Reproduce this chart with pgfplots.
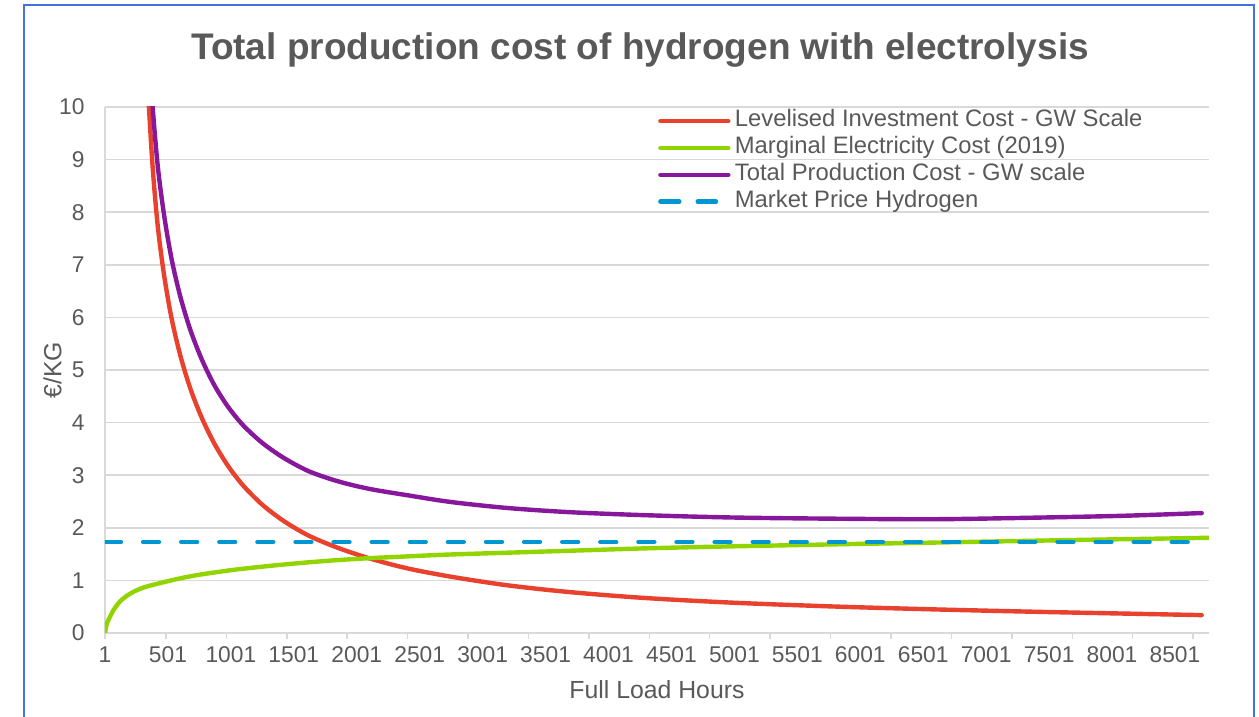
\documentclass[border=0pt]{standalone}
\usepackage{pgfplots}
\pgfplotsset{compat=1.18}
\usepackage{fontspec}
\setmainfont{Liberation Sans}
\definecolor{cred}{RGB}{232,65,46}
\definecolor{cgreen}{RGB}{146,212,0}
\definecolor{cpurple}{RGB}{135,24,155}
\definecolor{cblue}{RGB}{0,150,210}
\definecolor{cgrid}{RGB}{217,217,217}
\definecolor{ctext}{RGB}{89,89,89}
\definecolor{cframe}{RGB}{68,114,220}
\pgfplotsset{dashlegend/.style={legend image code/.code={\draw[##1, dash pattern=on 9.45pt off 9.2pt on 9.15pt off 20pt] (0pt,0pt) -- (33.95pt,0pt);}}}
\begin{document}
\begin{tikzpicture}
\useasboundingbox (0,0) rectangle (629.5pt,358.5pt);
\draw[cframe, line width=1pt] (12pt,-2pt) -- (12pt,356pt) -- (627pt,356pt) -- (627pt,-2pt);
\begin{axis}[
  at={(52.5pt,42pt)}, anchor=south west,
  scale only axis, width=552pt, height=263pt,
  xmin=1, xmax=8771, ymin=0, ymax=10,
  axis x line*=bottom, axis y line*=left,
  axis line style={-, draw=cgrid, line width=0.75pt},
  xtick={1,501,1001,1501,2001,2501,3001,3501,4001,4501,5001,5501,6001,6501,7001,7501,8001,8501},
  xticklabels={1,501,1001,1501,2001,2501,3001,3501,4001,4501,5001,5501,6001,6501,7001,7501,8001,8501},
  minor xtick={1,485,965,1445,1925,2405,2885,3365,3845,4325,4805,5285,5765,6245,6725,7205,7685,8165,8645},
  ytick={0,1,2,3,4,5,6,7,8,9,10},
  yticklabels={0,1,2,3,4,5,6,7,8,9,10},
  major tick length=0pt, minor tick length=3pt, tick align=outside,
  tick style={cgrid, line width=0.75pt},
  ymajorgrids, grid style={cgrid, line width=0.75pt},
  xticklabel style={font=\fontsize{11.4}{13}\selectfont, text=ctext, yshift=-3.2pt},
  yticklabel style={font=\fontsize{11.4}{13}\selectfont, text=ctext, xshift=-6.7pt},
  xlabel={Full Load Hours},
  ylabel={€/KG},
  xlabel style={font=\fontsize{12.4}{14}\selectfont, text=ctext, at={(axis description cs:0.5,0)}, anchor=center, yshift=-28.5pt},
  ylabel style={font=\fontsize{12.4}{14}\selectfont, text=ctext, at={(axis description cs:0,0.5)}, anchor=center, yshift=26.3pt},
  legend style={at={(rel axis cs:0.5011,1)}, anchor=north west, yshift=-0.4pt, draw=none, fill=none,
    inner sep=0pt, outer sep=0pt, font=\fontsize{11.9}{13}\selectfont, text=ctext,
    nodes={inner sep=0pt, text height=9.45pt, text depth=3.95pt}, column sep=2.2pt, row sep=0pt},
  legend cell align=left,
  legend image code/.code={\draw[#1] (0pt,0pt) -- (33.95pt,0pt);},
  every axis plot/.append style={line width=2.2pt, line cap=round, line join=round},
]
\addplot[cred, smooth, tension=0.5] coordinates {
(330,10.9) (350,10.0) (380,8.84) (420,7.74) (470,6.81) (530,5.98) (600,5.27) (680,4.64)
(770,4.09) (870,3.60) (980,3.17) (1100,2.80) (1250,2.44) (1420,2.13) (1620,1.85)
(1850,1.62) (2100,1.42) (2400,1.23) (2750,1.07) (3200,0.906) (3700,0.776) (4300,0.664)
(5000,0.575) (5800,0.503) (6600,0.448) (7400,0.403) (8100,0.369) (8713,0.34)
};
\addlegendentry{Levelised Investment Cost - GW Scale}
\addplot[cgreen, smooth, tension=0.4] coordinates {
(1,0) (5,0.06) (12,0.14) (22,0.22) (41,0.31) (67,0.43) (90,0.51) (120,0.60) (170,0.70)
(226,0.78) (290,0.85) (358,0.90) (491,0.98) (620,1.05) (756,1.11) (1020,1.20) (1286,1.27)
(1550,1.33) (1815,1.38) (2080,1.42) (2345,1.45) (2716,1.49) (3245,1.53) (3775,1.57)
(4304,1.61) (4834,1.64) (5363,1.665) (5900,1.69) (6500,1.715) (6952,1.735) (7747,1.77)
(8276,1.79) (8771,1.81)
};
\addlegendentry{Marginal Electricity Cost (2019)}
\addplot[cpurple, smooth, tension=0.5] coordinates {
(350,11.15) (380,9.99) (420,8.88) (470,7.95) (530,7.11) (600,6.39) (680,5.755) (770,5.20)
(870,4.71) (980,4.295) (1100,3.945) (1250,3.615) (1420,3.33) (1620,3.075) (1850,2.885)
(2100,2.74) (2400,2.62) (2750,2.49) (3200,2.376) (3700,2.296) (4300,2.239) (5000,2.195)
(5800,2.173) (6600,2.163) (7400,2.193) (8100,2.229) (8713,2.28)
};
\addlegendentry{Total Production Cost - GW scale}
\addplot[cblue, dash pattern=on 7.95pt off 11.1pt, dashlegend]
  coordinates {(1,1.73) (8713,1.73)};
\addlegendentry{Market Price Hydrogen}
\end{axis}
\node[anchor=base, font=\bfseries\fontsize{18.5}{22}\selectfont, text=ctext] at (320pt,328.5pt) {Total production cost of hydrogen with electrolysis};
\end{tikzpicture}
\end{document}
